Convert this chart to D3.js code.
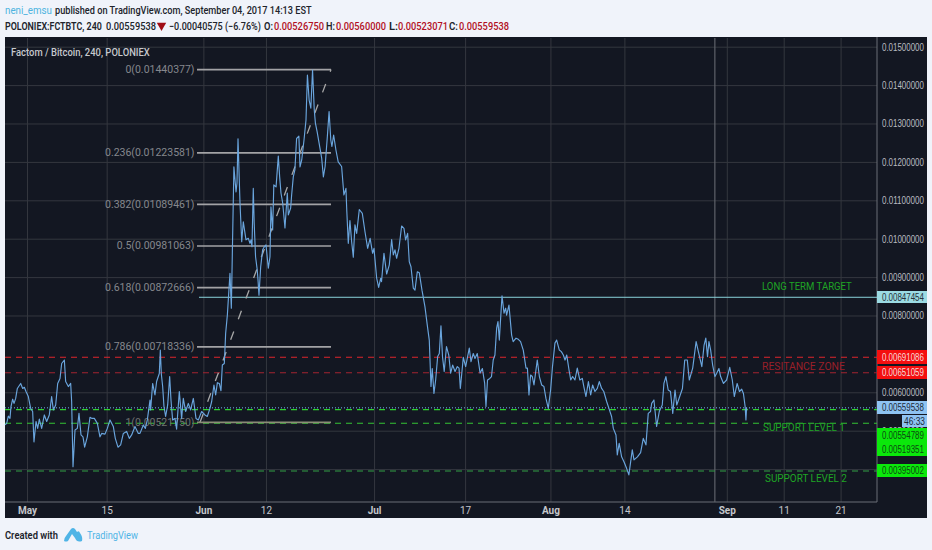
<!DOCTYPE html>
<html><head><meta charset="utf-8">
<script src="https://cdn.jsdelivr.net/npm/d3@7/dist/d3.min.js"></script>
<style>html,body{margin:0;padding:0;background:#f0f3fa;overflow:hidden}svg{display:block}text{font-family:Roboto,"Noto Sans",sans-serif}</style>
</head><body><svg id="c" width="932" height="550"></svg>
<script>
// days since 1 May 2017
const days=[-3.85,-3.57,-3.28,-2.99,-2.81,-2.52,-2.28,-1.99,-1.7,-1.11,-0.76,-0.47,-0.18,0.23,0.64,0.99,1.22,1.58,1.87,2.16,2.57,3.04,3.45,3.91,4.32,4.62,5.03,5.38,5.79,6.08,6.55,6.78,7.25,7.66,7.83,8.07,8.42,8.83,9.12,9.47,9.82,10.11,10.58,11.05,11.4,11.81,12.34,12.8,13.1,13.68,14.09,14.56,15.14,15.49,15.96,16.43,16.9,17.48,17.95,18.36,18.94,19.53,19.82,20.41,20.76,21.11,21.58,21.69,22.04,22.45,22.74,23.21,23.39,23.56,23.8,24.03,24.32,24.68,25.03,25.26,25.55,25.96,26.25,26.72,27.13,27.42,27.83,28.3,28.71,29.18,29.65,30.06,30.64,31.22,31.63,32.1,32.4,32.8,33.1,33.4,33.74,34.03,34.27,34.62,34.85,35.15,35.61,35.85,36.3,36.67,36.84,37.02,37.37,37.67,37.95,38.42,38.83,39.12,39.3,39.47,39.7,39.86,40.1,40.4,40.53,40.7,41,41.34,41.64,41.93,42.34,42.63,42.8,43.1,43.3,43.7,44.09,44.33,44.56,44.86,45.26,45.67,45.85,46.26,46.43,46.72,47,47.3,47.7,47.9,48.2,48.6,48.95,49.2,49.5,49.8,50.1,50.4,50.6,50.9,51.4,51.7,52,52.3,52.7,53,53.3,53.5,53.8,54.2,54.6,55.2,55.6,55.96,56.1,56.37,56.66,56.96,57.25,57.54,57.84,58.3,58.83,59.3,59.77,60.2,60.64,60.88,61.35,61.7,62.05,62.2,62.63,63.1,63.57,63.98,64.27,64.56,64.85,65.26,65.73,66.14,66.43,66.78,67.07,67.37,67.78,68.07,68.48,68.83,69.3,69.82,70.23,70.58,70.88,71.1,71.4,71.7,72.05,72.34,72.63,72.9,73.2,73.6,74,74.33,74.68,75.1,75.5,75.8,76.03,76.55,76.96,77.6,77.9,78.3,78.6,79,79.5,79.9,80.3,80.53,80.8,81.2,81.5,81.8,82.1,82.4,82.63,82.87,83.34,83.7,83.98,84.15,84.56,85.03,85.3,85.8,86.2,86.6,87.07,87.55,87.8,88.07,88.36,88.66,88.95,89.53,89.9,90.3,90.7,91.05,91.46,91.87,92.2,92.63,92.93,93.4,93.75,94.1,94.4,94.7,95.1,95.4,95.73,96.14,96.55,97,97.43,97.7,98.07,98.5,98.9,99.24,99.65,100.06,100.41,100.82,101.2,101.7,102.1,102.57,102.87,103.34,103.57,103.9,104.33,104.74,105.2,105.6,106.2,106.5,107.1,107.66,108.13,108.6,109,109.4,109.6,110,110.47,110.94,111.46,111.75,112.1,112.5,112.9,113.3,113.7,114,114.4,115,115.4,115.85,116.2,116.8,117.4,117.8,118.4,118.8,119.1,119.4,119.65,119.95,120.3,120.7,120.99,121.4,121.7,122.2,122.75,123.3,123.75,124.1,124.6,125,125.4,125.7,126,126.14,126.26];
const prices=[.00515,.00519,.00538,.00532,.00563,.00582,.00571,.00584,.0061,.00623,.0061,.00613,.00602,.00589,.00558,.0055,.00471,.00524,.00506,.0053,.00506,.00541,.00524,.00541,.00589,.00554,.00567,.00623,.00636,.00675,.00684,.00628,.00615,.00623,.00576,.00406,.00502,.00506,.00545,.00489,.00484,.00457,.00484,.00535,.00532,.00532,.00519,.00484,.00493,.00491,.00506,.00528,.00511,.0048,.00457,.00463,.00493,.00498,.0048,.00489,.00511,.00493,.00493,.00515,.00506,.00528,.0058,.00554,.00623,.00593,.00628,.00649,.0071,.00649,.00615,.00563,.00537,.00567,.00641,.0058,.00528,.00532,.00504,.00602,.00532,.00584,.0055,.00571,.00554,.00584,.00532,.00528,.0055,.00541,.00537,.00558,.00576,.00619,.00593,.00625,.00623,.00604,.00671,.00675,.00753,.00801,.0091,.00819,.01187,.01122,.01145,.0126,.01093,.00992,.01044,.00997,.01001,.00988,.00997,.00979,.01131,.0104,.00953,.00918,.00892,.00853,.00927,.00971,.00979,.00984,.00923,.00953,.01083,.01023,.0114,.01135,.01215,.01161,.01119,.01093,.01028,.01119,.01062,.0108,.01114,.01161,.01179,.01261,.01267,.01187,.01205,.01257,.01309,.01426,.01361,.0134,.01439,.01335,.01301,.01279,.01236,.0121,.01161,.01188,.01267,.01331,.01257,.0124,.0127,.01231,.012,.01188,.01114,.01131,.01075,.00988,.01047,.00992,.00952,.01036,.01014,.01076,.01066,.01018,.00975,.01001,.00962,.00975,.00897,.00873,.00897,.00888,.00962,.00908,.00932,.00998,.00958,.00971,.00949,.00975,.01033,.01027,.00997,.01014,.0094,.00927,.00871,.00866,.00914,.00911,.00866,.00823,.00775,.00736,.00615,.00662,.00597,.00632,.00693,.00701,.00773,.00693,.00654,.00719,.00697,.0065,.00671,.00654,.00667,.00663,.0061,.00691,.00667,.00715,.0068,.00701,.00688,.00701,.0065,.00662,.00623,.00563,.00632,.00636,.00641,.00684,.00697,.00767,.00784,.00736,.00851,.00806,.00819,.00801,.00827,.00749,.00732,.00741,.00738,.00732,.0071,.00663,.00663,.00593,.00645,.00641,.00619,.00684,.00641,.00619,.00615,.00584,.00558,.00606,.00667,.00728,.00736,.0071,.00706,.00697,.00684,.00697,.00658,.00632,.00641,.00632,.00663,.00632,.00636,.00615,.00589,.00628,.00593,.00619,.00602,.0061,.00628,.0061,.00602,.00576,.00558,.00537,.00506,.00489,.00437,.00467,.00432,.00419,.00402,.00385,.0045,.00424,.00432,.00443,.0048,.00463,.00545,.0055,.00571,.0058,.00511,.0055,.00567,.00623,.00641,.00606,.00602,.00545,.00606,.00567,.00584,.0061,.00684,.00684,.00632,.00663,.00732,.00706,.00667,.00723,.00741,.00693,.00732,.0071,.00671,.00641,.00649,.00662,.00641,.00623,.00632,.00665,.00632,.00589,.00623,.00602,.00608,.00597,.00563,.00528,.0056];
const priceTicks=[.015,.014,.013,.012,.011,.01,.009,.008,.006,.005,.004];
const dateTicks=[0,14,31,42,61,77,92,105,123,133,143];
const dateLabels=["May","15","Jun","12","Jul","17","Aug","14","Sep","11","21"];
const fibRatios=["0","0.236","0.382","0.5","0.618","0.786","1"];
const fibPrices=[.01440377,.01223581,.01089461,.00981063,.00872666,.00718336,.0052175];
const levelNames=["LONG TERM TARGET","RESITANCE ZONE","SUPPORT LEVEL 1","SUPPORT LEVEL 2"];
const targetPrice=.00847454, resistance=[.00691086,.00651059], support=[.00554789,.00519351,.00395002], lastPrice=.00559538;

const toDate=d=>new Date(Date.UTC(2017,4,1)+d*864e5);
const x=d3.scaleUtc().domain([toDate(-3.87),toDate(149.4)]).range([5,877]);
const y=d3.scaleLinear().domain([.003143,.015]).range([502,46.7]);
const svg=d3.select("#c");
const fmt=d3.format(".8f");
// squeeze a text to a width: the reference uses a narrow face
const fit=(sel,xp,yp,w)=>{sel.attr("x",0).attr("y",0);const k=w/sel.node().getComputedTextLength();sel.attr("transform",`translate(${xp},${yp}) scale(${k},1)`);return sel;};

svg.append("rect").attr("x",5).attr("y",37).attr("width",922).attr("height",481).attr("fill","#131722");

// grid
const gy=svg.append("g").attr("transform","translate(877,0)")
  .call(d3.axisRight(y).tickValues(priceTicks).tickSize(0).tickPadding(5).tickFormat(fmt));
gy.select(".domain").remove();
gy.selectAll("line").attr("x1",-872).attr("x2",0).attr("stroke","#34373f").attr("stroke-width",1);
gy.selectAll("text").filter(d=>d===.004).remove();
gy.selectAll("text").attr("fill","#b9bbc0").attr("dy",null).style("font-family","'Liberation Sans'").style("font-size","10px")
  .each(function(){fit(d3.select(this),5,3.5,42);});

const gx=svg.append("g").attr("transform","translate(0,502)")
  .call(d3.axisBottom(x).tickValues(dateTicks.map(toDate)).tickSize(0).tickPadding(5).tickFormat((d,i)=>dateLabels[i]));
gx.select(".domain").remove();
gx.selectAll("line").attr("y1",-464).attr("y2",0).attr("stroke","#34373f").attr("stroke-width",1);
gx.selectAll("text").attr("fill","#c4c6cb").style("font-size","10px").style("font-weight",(d,i)=>/[A-Z]/.test(dateLabels[i])?"700":"400");

svg.append("line").attr("x1",5).attr("x2",877).attr("y1",502).attr("y2",502).attr("stroke","#6b6e76");
svg.append("line").attr("x1",877).attr("x2",877).attr("y1",37).attr("y2",502).attr("stroke","#6b6e76");
// crosshair
svg.append("line").attr("x1",x(toDate(120.9))).attr("x2",x(toDate(120.9))).attr("y1",38).attr("y2",502).attr("stroke","#5f626a").attr("stroke-width",1.2);

const hline=(p,x1,col,dash,w)=>svg.append("line").attr("x1",x1).attr("x2",877).attr("y1",y(p)).attr("y2",y(p)).attr("stroke",col).attr("stroke-width",w||1).attr("stroke-dasharray",dash||null);
hline(resistance[0],5,"#e0262c","6 5",1.1);
hline(resistance[1],5,"#a32430","6 5",1.1);
hline(support[0],5,"#2fd42f","6 5",1.2);
hline(support[1],5,"#35c435","6 5",1.1);
hline(support[2],5,"#33a044","6 5",1.1);
hline(targetPrice,199,"#8ad4dc");
hline(lastPrice,5,"#6fb2ee","1 2");

// fib
const fibX1=197, fibX2=331;
const fg=svg.append("g");
fg.append("line").attr("x1",fibX1+3).attr("y1",y(fibPrices[6])).attr("x2",fibX2).attr("y2",y(fibPrices[0])).attr("stroke","#a8a8a8").attr("stroke-width",1.3).attr("stroke-dasharray","9 13");
fibPrices.forEach((p,i)=>{
  fg.append("line").attr("x1",fibX1).attr("x2",fibX2).attr("y1",y(p)).attr("y2",y(p)).attr("stroke",i==6?"#8a8d76":"#a3a3a6").attr("stroke-width",1.6);
  fg.append("text").attr("x",194.5).attr("y",y(p)+3.5).attr("text-anchor","end").attr("fill",i==6?"#6f7270":"#85878d").style("font-size","10.5px").text(fibRatios[i]+"("+fmt(p)+")");
});

// price line (days were read on a 5.7 px/day grid; the axis runs at 5.69)
const dayCal=5.7/5.69;
const line=d3.line().x((d,i)=>x(toDate(days[i]*dayCal))).y(d=>y(d));
svg.append("path").datum(prices).attr("d",line).attr("fill","none").attr("stroke","#6aa5dd").attr("stroke-width",1.15).attr("stroke-linejoin","round");

// title
fit(svg.append("text").attr("fill","#c6c8cd").style("font-size","11px").style("font-weight",500).text("Factom / Bitcoin, 240, POLONIEX"),11,55.5,139);

// zone labels
[[762,290,"#1fa525",90],[762,369.5,"#9a1f29",83],[763,431,"#1fa525",82],[765,482,"#1fa525",82]].forEach((a,i)=>{
  fit(svg.append("text").attr("fill",a[2]).style("font-size","11px").text(levelNames[i]),a[0],a[1],a[3]);
});

// axis tags (the tag text can sit away from its price when tags would collide)
const tag=(p,y0,y1,bg,c)=>{
  svg.append("rect").attr("x",877).attr("y",y0).attr("width",50).attr("height",y1-y0).attr("fill",bg);
  fit(svg.append("text").attr("fill",c).style("font-family","'Liberation Sans'").style("font-size","10px").text(fmt(p)),882,(y0+y1)/2+3.5,42);
};
tag(targetPrice,291,303,"#9bdbe3","#26323a");
tag(resistance[0],350,364,"#f40f0f","#f6d9d9");
tag(resistance[1],366,379,"#f40f0f","#f6d9d9");
tag(lastPrice,401,414,"#8ec3f2","#1c2a38");
tag(support[0],428,443,"#0be80b","#0d4a12");
tag(support[1],442,456,"#0be80b","#0d4a12");
tag(support[2],464,477,"#0be80b","#0d4a12");
svg.append("rect").attr("x",902).attr("y",415).attr("width",25).attr("height",12).attr("fill","#8ec3f2");
fit(svg.append("text").attr("fill","#1c2a38").style("font-family","'Liberation Sans'").style("font-size","10px").text("46:33"),904,425,21);

// header
const hdr=(t,xp,yp,w,col,wt)=>fit(svg.append("text").attr("fill",col).style("font-size","11px").style("font-weight",wt||500).text(t),xp,yp,w);
const dk="#20232b", rd="#b2101e";
hdr("neni_emsu",5,14,47,"#4db3e0",400);
hdr("published on TradingView.com, September 04, 2017 14:13 EST",55,14,257,dk);
hdr("POLONIEX:FCTBTC, 240",5,30,97,dk,600);
hdr("0.00559538",106,30,50,dk);
svg.append("path").attr("d",d3.symbol(d3.symbolTriangle,38)()).attr("transform","translate(161.5,25.5) rotate(180)").attr("fill","#a00d14");
hdr("\u22120.00040575 (\u22126.76%)",169,30,92,dk);
[["O:",264,"0.00526750",274],["H:",326,"0.00560000",336],["L:",389,"0.00523071",398],["C:",449,"0.00559538",459]].forEach(a=>{
  hdr(a[0],a[1],30,9,dk,600); hdr(a[2],a[3],30,50,rd);
});
// footer
hdr("Created with",5,539,53,dk,600);
svg.append("path").attr("d","M64 541 Q64 538 66 536 L71 529 Q73 527 75 529 L77 532 Q79 530 80 533 Q83 537 82 541 Q77 543 75 538 L72 534 L68 541 Q66 542 64 541 Z").attr("fill","#4fb4e6");
hdr("TradingView",87,539,51,"#4fb4e6",400);
</script></body></html>
